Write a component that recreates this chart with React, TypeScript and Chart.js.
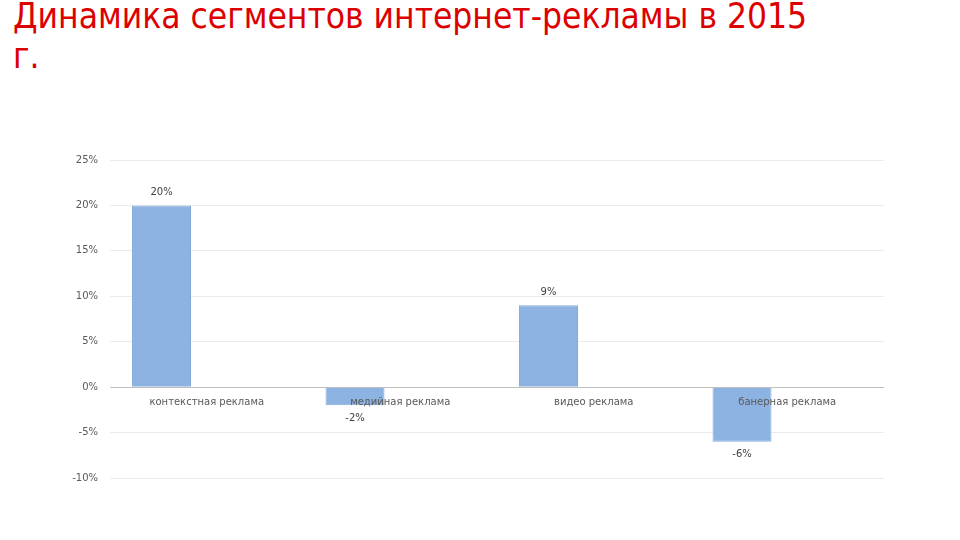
import React, { useEffect, useRef } from "react";
import { Chart, registerables } from "chart.js";

Chart.register(...registerables);

const titleLine1 = "Динамика сегментов интернет-рекламы в 2015";
const titleLine2 = "г.";
const categories = ["контекстная реклама", "медийная реклама", "видео реклама", "банерная реклама"];
const growth = [20, -2, 9, -6];
const emptySeries = [null, null, null, null];
const yMin = -10;
const yMax = 25;
const yStep = 5;

const labelsPlugin = {
  id: "valueAndCategoryLabels",
  afterDatasetsDraw(chart: any) {
    const ctx = chart.ctx;
    const meta = chart.getDatasetMeta(0);
    const yScale = chart.scales.y;
    const xScale = chart.scales.x;
    const zeroY = yScale.getPixelForValue(0);
    ctx.save();
    ctx.font = "10px 'DejaVu Sans', sans-serif";
    ctx.textAlign = "center";
    ctx.textBaseline = "middle";
    ctx.fillStyle = "#595959";
    categories.forEach((c, i) => {
      ctx.fillText(c, xScale.getPixelForValue(i), zeroY + 15);
    });
    ctx.fillStyle = "#404040";
    meta.data.forEach((bar: any, i: number) => {
      const v = growth[i];
      const y = v >= 0 ? bar.y - 13 : bar.y + 13;
      ctx.fillText(v + "%", bar.x, y);
    });
    ctx.restore();
  },
};

export default function App() {
  const ref = useRef<HTMLCanvasElement>(null);
  useEffect(() => {
    if (!ref.current) return;
    const chart = new Chart(ref.current, {
      type: "bar",
      data: {
        labels: categories,
        datasets: [
          {
            data: growth,
            backgroundColor: "#8db3e2",
            borderColor: "#85aad8",
            borderWidth: 1,
            categoryPercentage: 0.935,
            barPercentage: 0.652,
          },
          {
            data: emptySeries as any,
            backgroundColor: "#c0504d",
            categoryPercentage: 0.935,
            barPercentage: 0.652,
          },
        ],
      },
      options: {
        animation: false,
        responsive: false,
        maintainAspectRatio: false,
        events: [],
        layout: { padding: { top: 160, bottom: 62, right: 76, left: 0 } },
        plugins: { legend: { display: false }, tooltip: { enabled: false }, title: { display: false } },
        scales: {
          x: { display: false },
          y: {
            min: yMin,
            max: yMax,
            afterFit(scale: any) {
              scale.width = 110;
            },
            border: { display: false },
            grid: {
              drawTicks: false,
              color: (ctx: any) => (ctx.tick && ctx.tick.value === 0 ? "#bfbfbf" : "#ebebeb"),
              lineWidth: 1,
            },
            ticks: {
              stepSize: yStep,
              padding: 12,
              color: "#595959",
              font: { family: "'DejaVu Sans', sans-serif", size: 10 },
              callback: (v: any) => v + "%",
            },
          },
        },
      },
      plugins: [labelsPlugin],
    });
    return () => chart.destroy();
  }, []);
  return (
    <div style={{ position: "absolute", left: 0, top: 0, width: 960, height: 540, background: "#fff", overflow: "hidden" }}>
      <div
        style={{
          position: "absolute",
          left: 13,
          top: -4,
          color: "#dd0000",
          fontFamily: "'Liberation Sans Narrow', 'DejaVu Sans Condensed', sans-serif",
          fontSize: 35,
          lineHeight: "40px",
          whiteSpace: "nowrap",
        }}
      >
        <div>{titleLine1}</div>
        <div>{titleLine2}</div>
      </div>
      <canvas ref={ref} width={960} height={540} style={{ position: "absolute", left: 0, top: 0 }} />
    </div>
  );
}
